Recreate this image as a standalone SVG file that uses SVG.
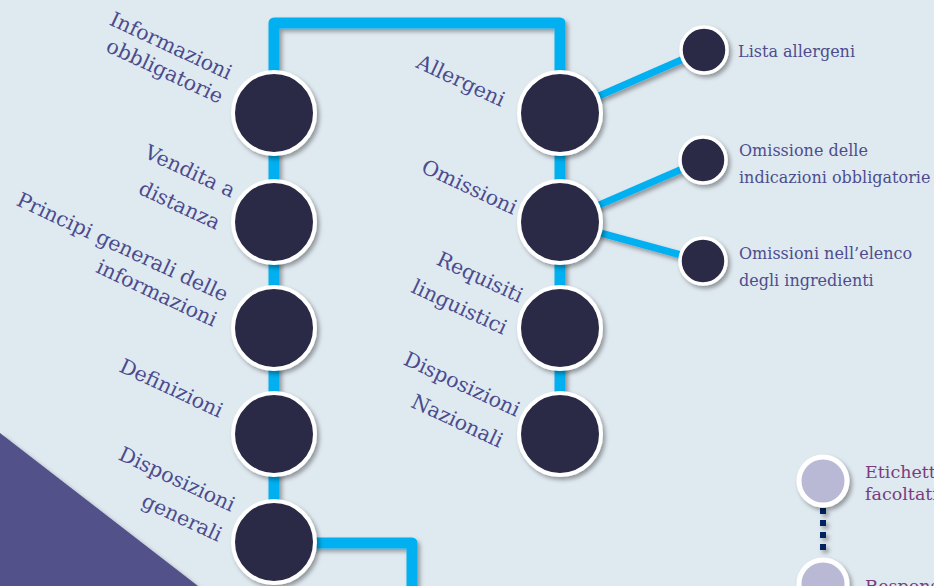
<svg xmlns="http://www.w3.org/2000/svg" width="934" height="586" viewBox="0 0 934 586">
<defs>
<filter id="sh" x="-30%" y="-30%" width="160%" height="160%">
<feDropShadow dx="2.5" dy="3" stdDeviation="2" flood-color="#000" flood-opacity="0.35"/>
</filter>
<style>
.bg{fill:#dfe9f0}
.main{fill:none;stroke:#00b0f0;stroke-width:11;stroke-linejoin:round}
.branch{fill:none;stroke:#00b0f0;stroke-width:7}
.big{fill:#292946;stroke:#fff;stroke-width:4}
.small{fill:#292946;stroke:#fff;stroke-width:3.5}
.lav{fill:#b9b9d6;stroke:#fff;stroke-width:5}
.lbl{font-family:"DejaVu Serif","Liberation Serif",serif;font-size:20.5px;fill:#4b4b8e;text-anchor:end}
.sl{font-family:"DejaVu Serif","Liberation Serif",serif;font-size:16px;fill:#4d4d8e}
.pl{font-family:"DejaVu Serif","Liberation Serif",serif;font-size:17.5px;fill:#7b3c7e}
</style>
</defs>
<rect class="bg" x="0" y="0" width="934" height="586"/>
<polygon points="0,433 198,586 0,586" fill="#53518a" filter="url(#sh)"/>

<g id="connectors" filter="url(#sh)">
<path class="main" d="M274,542 L274,23 L560,23 L560,434"/>
<path class="main" d="M274,543 L412,543 L412,600"/>
<path class="branch" d="M560,113 L704,50"/>
<path class="branch" d="M560,222 L703,160"/>
<path class="branch" d="M560,222 L703,261"/>
<line x1="823" y1="508" x2="823" y2="552" stroke="#002060" stroke-width="6" stroke-dasharray="6 6"/>
</g>

<g id="n-informazioni">
<circle class="big" cx="274" cy="113" r="41" filter="url(#sh)"/>
<text class="lbl" transform="translate(228,80) rotate(25)">Informazioni</text>
<text class="lbl" transform="translate(219,104) rotate(25)">obbligatorie</text>
</g>
<g id="n-vendita">
<circle class="big" cx="274" cy="222" r="41" filter="url(#sh)"/>
<text class="lbl" transform="translate(231,198) rotate(25)">Vendita a</text>
<text class="lbl" transform="translate(216,230) rotate(25)">distanza</text>
</g>
<g id="n-principi">
<circle class="big" cx="274" cy="328" r="41" filter="url(#sh)"/>
<text class="lbl" transform="translate(224,302) rotate(25)">Principi generali delle</text>
<text class="lbl" transform="translate(213,327) rotate(25)">informazioni</text>
</g>
<g id="n-definizioni">
<circle class="big" cx="274" cy="434" r="41" filter="url(#sh)"/>
<text class="lbl" transform="translate(219,418) rotate(25)">Definizioni</text>
</g>
<g id="n-disp-generali">
<circle class="big" cx="274" cy="542" r="41" filter="url(#sh)"/>
<text class="lbl" transform="translate(231,512) rotate(25)">Disposizioni</text>
<text class="lbl" transform="translate(218,542) rotate(25)">generali</text>
</g>

<g id="n-allergeni">
<circle class="big" cx="560" cy="113" r="41" filter="url(#sh)"/>
<text class="lbl" transform="translate(501,107) rotate(25)">Allergeni</text>
</g>
<g id="n-omissioni">
<circle class="big" cx="560" cy="222" r="41" filter="url(#sh)"/>
<text class="lbl" transform="translate(513,215) rotate(25)">Omissioni</text>
</g>
<g id="n-requisiti">
<circle class="big" cx="560" cy="328" r="41" filter="url(#sh)"/>
<text class="lbl" transform="translate(519,303) rotate(25)">Requisiti</text>
<text class="lbl" transform="translate(503,335) rotate(25)">linguistici</text>
</g>
<g id="n-disp-nazionali">
<circle class="big" cx="560" cy="434" r="41" filter="url(#sh)"/>
<text class="lbl" transform="translate(516,417) rotate(25)">Disposizioni</text>
<text class="lbl" transform="translate(499,448) rotate(25)">Nazionali</text>
</g>

<g id="n-lista">
<circle class="small" cx="704" cy="50" r="23" filter="url(#sh)"/>
<text class="sl" x="738" y="57">Lista allergeni</text>
</g>
<g id="n-omissione-indicazioni">
<circle class="small" cx="703" cy="160" r="23" filter="url(#sh)"/>
<text class="sl" x="739" y="156">Omissione delle</text>
<text class="sl" x="739" y="183">indicazioni obbligatorie</text>
</g>
<g id="n-omissioni-elenco">
<circle class="small" cx="703" cy="261" r="23" filter="url(#sh)"/>
<text class="sl" x="739" y="259">Omissioni nell’elenco</text>
<text class="sl" x="739" y="286">degli ingredienti</text>
</g>

<g id="n-etichettatura">
<circle class="lav" cx="823" cy="481" r="24" filter="url(#sh)"/>
<text class="pl" x="865" y="478">Etichettatura</text>
<text class="pl" x="865" y="500">facoltativa</text>
</g>
<g id="n-responsabilita">
<circle class="lav" cx="823" cy="584" r="24" filter="url(#sh)"/>
<text class="pl" x="865" y="592">Responsabilità</text>
</g>
</svg>
